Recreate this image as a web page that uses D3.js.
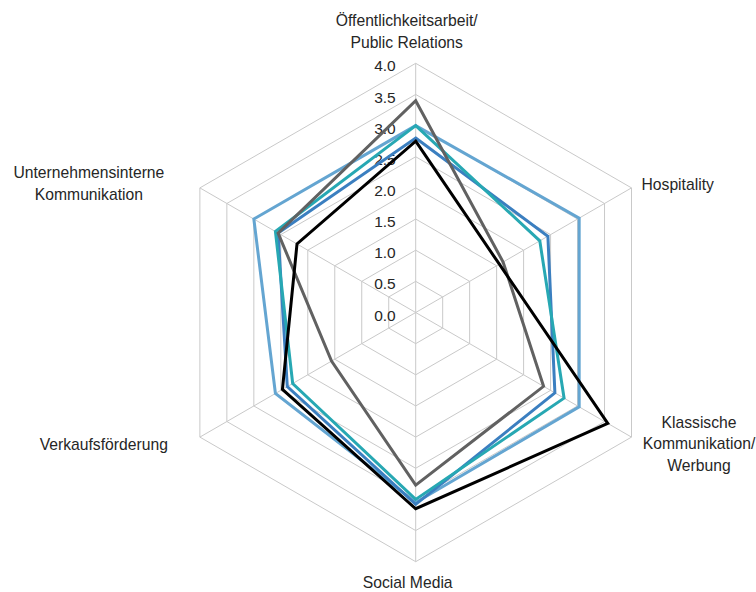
<!DOCTYPE html>
<html>
<head>
<meta charset="utf-8">
<script src="https://cdn.jsdelivr.net/npm/d3@7"></script>
<style>
  html, body { margin: 0; padding: 0; background: #fff; }
  svg text { font-family: "Liberation Sans", Arial, Helvetica, sans-serif; fill: #262626; }
</style>
</head>
<body>
<svg id="chart" width="756" height="592"></svg>
<script>
// ---- data ----
const categories = [
  ["Öffentlichkeitsarbeit/", "Public Relations"],
  ["Hospitality"],
  ["Klassische", "Kommunikation/", "Werbung"],
  ["Social Media"],
  ["Verkaufsförderung"],
  ["Unternehmensinterne", "Kommunikation"]
];
const tickValues = [0.0, 0.5, 1.0, 1.5, 2.0, 2.5, 3.0, 3.5, 4.0];
const seriesLightBlue  = [3.0, 3.03, 3.03, 3.05, 2.6, 3.0];
const seriesMediumBlue = [2.8, 2.45, 2.58, 3.08, 2.38, 2.55];
const seriesTeal       = [3.0, 2.3, 2.75, 3.0, 2.28, 2.6];
const seriesGray       = [3.4, 1.62, 2.37, 2.77, 1.56, 2.55];
const seriesBlack      = [2.75, 1.55, 3.56, 3.15, 2.47, 2.2];

// ---- layout / style ----
const cx = 415.7, cy = 312.5, R = 249.2;
const seriesList = [
  { values: seriesLightBlue,  color: "#64a5d1" },
  { values: seriesMediumBlue, color: "#3b7fc0" },
  { values: seriesTeal,       color: "#27a8b3" },
  { values: seriesGray,       color: "#616161" },
  { values: seriesBlack,      color: "#000000" }
];
// label placement relative to each outer vertex
const labelLayout = [
  { anchor: "middle", dx: -9,   dy: -37 },
  { anchor: "start",  dx: 10,   dy: 2.5 },
  { anchor: "middle", dx: 67.5, dy: -9.5 },
  { anchor: "middle", dx: -8,   dy: 26 },
  { anchor: "end",    dx: -32,  dy: 12.5 },
  { anchor: "middle", dx: -111, dy: -9.5 }
];
const lineHeight = 21.5;

const svg = d3.select("#chart");
const r = d3.scaleLinear().domain([0, 4]).range([0, R]);
const n = categories.length;
const angle = i => -Math.PI / 2 + i * 2 * Math.PI / n;
const pt = (i, v) => [cx + r(v) * Math.cos(angle(i)), cy + r(v) * Math.sin(angle(i))];

const g = svg.append("g");

// grid rings
const ringLine = d3.line().curve(d3.curveLinearClosed);
g.selectAll("path.ring").data(tickValues.filter(t => t > 0)).enter()
  .append("path").attr("class", "ring")
  .attr("d", t => ringLine(d3.range(n).map(i => pt(i, t))))
  .attr("fill", "none").attr("stroke", "#c9c9c9").attr("stroke-width", 1);

// spokes
g.selectAll("line.spoke").data(d3.range(n)).enter()
  .append("line").attr("class", "spoke")
  .attr("x1", cx).attr("y1", cy)
  .attr("x2", i => pt(i, 4)[0]).attr("y2", i => pt(i, 4)[1])
  .attr("stroke", "#c9c9c9").attr("stroke-width", 1);

// tick labels
g.selectAll("text.tick").data(tickValues).enter()
  .append("text").attr("class", "tick")
  .attr("x", cx - 20).attr("y", t => cy - r(t) + 2.5)
  .attr("dy", "0.36em")
  .attr("text-anchor", "end")
  .style("font-size", "15.5px")
  .text(t => d3.format(".1f")(t));

// category labels
categories.forEach((lines, i) => {
  const [vx, vy] = pt(i, 4);
  const L = labelLayout[i];
  const t = g.append("text")
    .attr("text-anchor", L.anchor)
    .style("font-size", "15.7px");
  lines.forEach((s, k) => {
    t.append("tspan").attr("x", vx + L.dx).attr("y", vy + L.dy + k * lineHeight).text(s);
  });
});

// series
seriesList.forEach(s => {
  g.append("path")
    .attr("d", ringLine(s.values.map((v, i) => pt(i, v))))
    .attr("fill", "none")
    .attr("stroke", s.color)
    .attr("stroke-width", 3)
    .attr("stroke-linejoin", "miter");
});
</script>
</body>
</html>
